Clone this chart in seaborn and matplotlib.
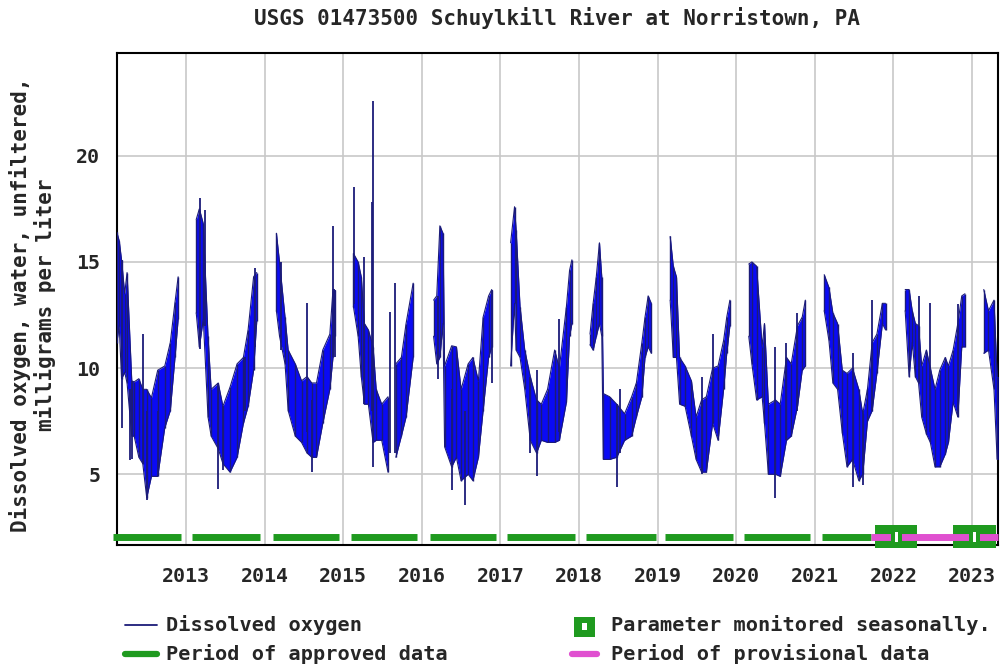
import numpy as np
import pandas as pd
import matplotlib
matplotlib.use("Agg")
import matplotlib.pyplot as plt
from matplotlib.patches import Rectangle
from matplotlib.lines import Line2D
import seaborn as sns

# Dissolved oxygen record, mg/L: time as decimal year, with the low and high
# of the readings around each date
do_time = [
    2012.12, 2012.15, 2012.18, 2012.22, 2012.25, 2012.31, 2012.34, 2012.40, 2012.45, 2012.50,
    2012.56, 2012.64, 2012.73, 2012.80, 2012.86, 2012.90,
    2013.13, 2013.17, 2013.22, 2013.28, 2013.32, 2013.41, 2013.47, 2013.56, 2013.65, 2013.73,
    2013.79, 2013.86, 2013.90,
    2014.15, 2014.19, 2014.26, 2014.30, 2014.39, 2014.47, 2014.54, 2014.60, 2014.66, 2014.74,
    2014.83, 2014.87, 2014.89,
    2015.13, 2015.19, 2015.23, 2015.27, 2015.32, 2015.38, 2015.42, 2015.49, 2015.57, 2015.67,
    2015.74, 2015.80, 2015.89,
    2016.15, 2016.19, 2016.23, 2016.27, 2016.29, 2016.38, 2016.44, 2016.50, 2016.59, 2016.65,
    2016.72, 2016.78, 2016.85, 2016.89,
    2017.13, 2017.18, 2017.20, 2017.25, 2017.31, 2017.38, 2017.46, 2017.52, 2017.60, 2017.69,
    2017.75, 2017.84, 2017.88, 2017.91,
    2018.14, 2018.18, 2018.22, 2018.26, 2018.29, 2018.31, 2018.39, 2018.48, 2018.58, 2018.67,
    2018.73, 2018.80, 2018.84, 2018.88, 2018.92,
    2019.16, 2019.20, 2019.24, 2019.28, 2019.35, 2019.43, 2019.49, 2019.56, 2019.62, 2019.70,
    2019.77, 2019.84, 2019.88, 2019.92,
    2020.16, 2020.20, 2020.26, 2020.33, 2020.36, 2020.41, 2020.50, 2020.56, 2020.64, 2020.70,
    2020.78, 2020.84, 2020.88,
    2021.12, 2021.18, 2021.23, 2021.29, 2021.35, 2021.41, 2021.48, 2021.56, 2021.61, 2021.67,
    2021.73, 2021.79, 2021.86, 2021.90,
    2022.15, 2022.20, 2022.24, 2022.28, 2022.32, 2022.36, 2022.42, 2022.47, 2022.53, 2022.59,
    2022.66, 2022.70, 2022.76, 2022.82, 2022.87, 2022.91,
    2023.15, 2023.21, 2023.28, 2023.32, 2023.331,
]
do_low = [
    11.2, 12.0, 9.5, 9.8, 9.3, 6.8, 6.8, 5.8, 5.5, 3.9,
    4.9, 4.9, 7.2, 8.0, 10.5, 12.3,
    12.6, 11.0, 12.3, 7.7, 6.8, 6.2, 5.5, 5.1, 5.8, 7.4,
    8.2, 9.9, 12.2,
    12.7, 11.5, 10.2, 8.0, 6.8, 6.5, 6.0, 5.8, 5.8, 7.4,
    9.0, 10.5, 11.5,
    12.9, 11.5, 9.6, 8.3, 8.3, 6.5, 6.6, 6.6, 5.1, 5.8,
    6.8, 7.7, 10.5,
    11.5, 10.2, 10.5, 12.1, 6.3, 5.35, 5.8, 4.7, 5.0, 4.7,
    5.8, 8.0, 10.5, 11.0,
    10.1, 13.05, 10.85, 10.5, 9.0, 6.6, 6.0, 6.6, 6.5, 6.5,
    6.6, 8.4, 11.5, 12.1,
    11.1, 10.85, 11.5, 12.1, 11.5, 5.7, 5.7, 5.8, 6.6, 6.8,
    7.7, 8.65, 10.5, 11.0, 10.7,
    13.2, 10.5, 10.5, 8.3, 8.2, 6.8, 5.7, 5.1, 5.1, 7.4,
    6.6, 9.0, 10.7, 12.0,
    11.5, 10.2, 8.5, 8.65, 7.4, 5.0, 5.0, 4.9, 6.6, 6.8,
    8.2, 9.9, 10.1,
    12.7, 11.3, 9.3, 9.0, 6.95, 5.35, 5.7, 4.7, 5.0, 7.5,
    8.0, 9.75, 12.1, 11.8,
    12.7, 9.6, 11.2, 9.6, 9.3, 7.7, 6.9, 6.5, 5.35, 5.35,
    5.95, 6.5, 8.4, 7.7, 11.0, 11.0,
    10.7, 10.85, 9.0, 5.7, 5.7,
]
do_high = [
    16.4, 16.0, 15.1, 13.5, 14.5, 9.4, 9.35, 9.5, 9.0, 9.0,
    8.6, 9.9, 10.1, 11.2, 13.1, 14.3,
    17.0, 17.5, 16.8, 11.5, 9.0, 9.3, 8.2, 9.1, 10.2, 10.5,
    11.8, 14.3, 14.5,
    16.35, 15.0, 12.4, 10.85, 10.2, 9.4, 9.6, 9.3, 9.3, 10.85,
    11.6, 13.7, 13.7,
    15.4, 15.0, 14.3, 12.1, 11.8, 11.0, 9.0, 8.3, 8.65, 10.2,
    10.5, 12.1, 14.0,
    13.2, 13.4, 16.7, 16.35, 10.1, 11.05, 11.0, 9.0, 10.2, 10.5,
    9.4, 12.4, 13.4, 13.7,
    15.9, 17.6, 16.5, 12.9, 10.85, 9.6, 8.5, 8.3, 9.0, 10.85,
    10.0, 12.9, 14.6, 15.1,
    11.6, 13.05, 14.3, 15.9, 14.3, 8.8, 8.65, 8.3, 7.85, 8.65,
    9.3, 11.2, 12.4, 13.4, 13.05,
    16.2, 14.8, 14.3, 10.5, 10.1, 9.4, 7.7, 8.5, 8.65, 10.0,
    10.1, 11.3, 12.4, 13.2,
    14.9, 15.0, 14.8, 11.0, 12.1, 8.3, 8.5, 8.3, 10.5, 10.2,
    12.0, 12.4, 13.2,
    14.4, 13.8, 12.6, 12.1, 9.9, 9.75, 10.0, 9.0, 7.85, 9.0,
    11.2, 11.6, 13.05, 13.05,
    13.7, 13.7, 12.7, 12.1, 12.0, 10.1, 10.85, 10.0, 9.0, 9.9,
    10.5, 10.1, 10.85, 12.1, 13.4, 13.5,
    13.7, 12.7, 13.2, 9.6, 9.6,
]

# Short-lived excursions above or below the daily band
spike_time = [2012.18, 2012.29, 2012.31, 2012.45, 2012.50, 2012.65, 2013.18, 2013.24, 2013.41,
              2013.47, 2013.75, 2013.88, 2014.21, 2014.54, 2014.60, 2014.87, 2014.89,
              2015.14, 2015.26, 2015.37, 2015.38, 2015.60, 2015.66, 2016.20, 2016.38, 2016.55,
              2016.89, 2017.38, 2017.46, 2017.75, 2018.48, 2018.52, 2019.56, 2019.70, 2020.50,
              2020.64, 2020.78, 2021.48, 2021.61, 2021.73, 2022.32, 2022.47, 2022.82]
spike_low = [7.2, 5.65, 5.7, 5.5, 3.8, 4.9, 10.9, 12.0, 4.3,
             5.2, 8.0, 11.0, 10.85, 7.0, 5.1, 10.5, 10.5,
             13.0, 8.3, 8.0, 5.35, 6.0, 6.0, 9.5, 4.25, 3.55,
             9.3, 6.0, 4.9, 7.0, 4.4, 6.0, 5.0, 7.4, 3.9,
             6.6, 8.0, 4.4, 4.5, 8.0, 9.3, 7.0, 7.7]
spike_high = [15.1, 9.0, 9.4, 11.6, 8.0, 8.0, 18.0, 17.45, 9.3,
              8.2, 10.5, 14.7, 15.0, 13.05, 8.5, 16.7, 13.7,
              18.55, 15.25, 17.8, 22.6, 12.65, 14.0, 13.4, 9.0, 8.0,
              13.7, 9.6, 9.9, 12.3, 8.3, 9.0, 9.6, 11.6, 11.0,
              11.2, 12.6, 10.7, 8.0, 13.2, 13.4, 13.05, 13.0]

# Data-status periods (decimal years)
approved_start = [2012.071, 2013.076, 2014.107, 2015.100, 2016.106, 2017.086, 2018.091,
                  2019.097, 2020.102, 2021.095]
approved_end = [2012.936, 2013.942, 2014.947, 2015.940, 2016.946, 2017.951, 2018.982,
                2019.962, 2020.942, 2021.719]
provisional_start = [2021.719]
provisional_end = [2023.331]
seasonal_start = [2021.769, 2022.762]
seasonal_end = [2022.304, 2023.309]

year_ticks = list(range(2013, 2024))
y_ticks = [5, 10, 15, 20]

BLUE = "#0a0af5"
NAVY = "#1b1b78"
GREEN = "#1f9a1f"
PINK = "#e050d0"
GRID = "#c8c8c8"

sns.set_theme(style="white")
plt.rcParams["font.family"] = ["DejaVu Sans Mono", "DejaVu Sans"]
plt.rcParams["font.weight"] = "bold"

df = pd.DataFrame({"t": do_time, "low": do_low, "high": do_high})
df["season"] = (df["t"].diff() > 0.1).cumsum()

fig = plt.figure(figsize=(10, 6.65), dpi=100)
ax = fig.add_axes([0.117, 0.1805, 0.881, 0.7398])

for _, g in df.groupby("season"):
    ax.fill_between(g["t"], g["low"], g["high"], color=BLUE, linewidth=0, zorder=3)
    ax.vlines(g["t"], g["low"], g["high"], color=NAVY, linewidth=1.0, zorder=4)

sns.lineplot(data=df, x="t", y="high", units="season", estimator=None,
             color=NAVY, linewidth=0.8, ax=ax, zorder=4, legend=False)
sns.lineplot(data=df, x="t", y="low", units="season", estimator=None,
             color=NAVY, linewidth=0.8, ax=ax, zorder=4, legend=False)
ax.vlines(spike_time, spike_low, spike_high, color=NAVY, linewidth=1.3, zorder=5)

# Status bars along the bottom of the plot
bar_y = 2.05
for s, e in zip(approved_start, approved_end):
    ax.hlines(bar_y, s, e, color=GREEN, linewidth=5, zorder=6, clip_on=False)
for s, e in zip(seasonal_start, seasonal_end):
    ax.add_patch(Rectangle((s, 1.55), e - s, 1.05, facecolor=GREEN, edgecolor="none",
                           zorder=6, clip_on=False))
for s, e in zip(provisional_start, provisional_end):
    ax.hlines(bar_y, s, e, color=PINK, linewidth=5, zorder=7, clip_on=False)
for s, e in zip(seasonal_start, seasonal_end):
    m = (s + e) / 2
    ax.add_patch(Rectangle((m - 0.07, 1.55), 0.14, 1.05, facecolor=GREEN, edgecolor="none",
                           zorder=8, clip_on=False))
    ax.add_patch(Rectangle((m - 0.02, 1.8), 0.04, 0.5, facecolor="white", edgecolor="none",
                           zorder=9, clip_on=False))

ax.set_xlim(2012.122, 2023.331)
ax.set_ylim(1.67, 24.84)
ax.set_xticks(year_ticks)
ax.set_xticklabels([str(y) for y in year_ticks])
ax.set_yticks(y_ticks)
ax.set_yticklabels([str(v) for v in y_ticks])
ax.tick_params(axis="x", length=0, pad=16, labelsize=14.3)
ax.tick_params(axis="y", length=0, pad=12, labelsize=14.3)
ax.grid(True, color=GRID, linewidth=1.2, zorder=0)
ax.set_axisbelow(True)
ax.set_xlabel("")
ax.set_ylabel("")
for sp in ax.spines.values():
    sp.set_visible(True)
    sp.set_color("black")
    sp.set_linewidth(1.5)

fig.text(0.5575, 1 - 18 / 665, "USGS 01473500 Schuylkill River at Norristown, PA",
         ha="center", va="center", fontsize=15, fontweight="bold")
fig.text(0.020, 1 - 305 / 665, "Dissolved oxygen, water, unfiltered,",
         rotation=90, ha="center", va="center", fontsize=15, fontweight="bold")
fig.text(0.045, 1 - 305 / 665, "milligrams per liter",
         rotation=90, ha="center", va="center", fontsize=15, fontweight="bold")

# Legend
def fy(py):
    return 1 - py / 665

fig.add_artist(Line2D([0.125, 0.157], [fy(625), fy(625)], color=NAVY, linewidth=1.3))
fig.add_artist(Line2D([0.125, 0.157], [fy(654), fy(654)], color=GREEN, linewidth=4.5))
fig.add_artist(Rectangle((0.574, fy(637)), 0.021, 20 / 665, facecolor=GREEN, edgecolor="none"))
fig.add_artist(Rectangle((0.582, fy(630)), 0.005, 7 / 665, facecolor="white", edgecolor="none"))
fig.add_artist(Line2D([0.572, 0.597], [fy(654), fy(654)], color=PINK, linewidth=4.5))
legend_kw = dict(ha="left", va="center", fontsize=14.6, fontweight="bold")
fig.text(0.166, fy(625), "Dissolved oxygen", **legend_kw)
fig.text(0.166, fy(654), "Period of approved data", **legend_kw)
fig.text(0.611, fy(625), "Parameter monitored seasonally.", **legend_kw)
fig.text(0.611, fy(654), "Period of provisional data", **legend_kw)

fig.savefig("out.png", dpi=100, facecolor="white")
